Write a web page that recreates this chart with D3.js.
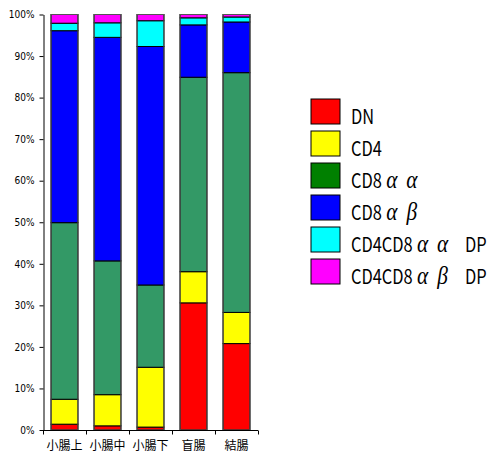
<!DOCTYPE html>
<html><head><meta charset="utf-8">
<script src="https://cdn.jsdelivr.net/npm/d3@7"></script>
<style>body{margin:0;background:#fff}</style>
</head><body>
<svg id="c" width="491" height="452"></svg>
<script>
const categories = ["小腸上","小腸中","小腸下","盲腸","結腸"];
const seriesNames = ["DN","CD4","CD8αα","CD8αβ","CD4CD8αα　DP","CD4CD8αβ　DP"];
const DN      = [1.4, 1.0, 0.7, 30.6, 20.8];
const CD4     = [6.0, 7.5, 14.4, 7.5, 7.5];
const CD8aa   = [42.5, 32.2, 19.8, 46.8, 57.7];
const CD8ab   = [46.2, 53.8, 57.4, 12.6, 12.2];
const DPaa    = [1.8, 3.5, 6.2, 1.7, 1.2];
const DPab    = [2.1, 2.0, 1.5, 0.8, 0.6];
const yTicks  = [0,10,20,30,40,50,60,70,80,90,100];
const barColors = ["#ff0000","#ffff00","#339966","#0000ff","#00ffff","#ff00ff"];
const legendColors = ["#ff0000","#ffff00","#008000","#0000ff","#00ffff","#ff00ff"];

const seriesVals = [DN, CD4, CD8aa, CD8ab, DPaa, DPab];
const table = categories.map((c,i)=>{const o={cat:c}; seriesNames.forEach((s,k)=>o[s]=seriesVals[k][i]); return o;});
const stacked = d3.stack().keys(seriesNames)(table);

const svg = d3.select("#c");
const x = d3.scaleBand().domain(categories).range([43,258]).paddingInner(0.35).paddingOuter(0.175);
const y = d3.scaleLinear().domain([0,100]).range([430,14.5]);

const g = svg.append("g");
stacked.forEach((layer,k)=>{
  g.selectAll(null).data(layer).enter().append("rect")
    .attr("x", d=>x(d.data.cat)+0.5)
    .attr("width", x.bandwidth()-1)
    .attr("y", d=>y(d[1]))
    .attr("height", d=>Math.max(0,y(d[0])-y(d[1])))
    .attr("fill", barColors[k])
    .attr("stroke","#000").attr("stroke-width",1);
});
g.selectAll(null).data(categories).enter().append("rect")
  .attr("x", d=>x(d)+0.5).attr("width", x.bandwidth()-1)
  .attr("y", y(100)).attr("height", y(0)-y(100))
  .attr("fill","none").attr("stroke","#555").attr("stroke-width",1);

// y axis
const yAxis = d3.axisLeft(y).tickValues(yTicks).tickFormat(d=>d+"%").tickSize(4).tickSizeOuter(0);
const ya = svg.append("g").attr("transform","translate(43.5,0)").call(yAxis);
ya.selectAll("text").attr("font-family","'Liberation Sans Narrow','DejaVu Sans Condensed',sans-serif").attr("font-size",10).attr("fill","#000").attr("x",-9);
ya.select(".domain").attr("stroke","#000");
ya.selectAll(".tick line").attr("stroke","#000");

// x axis
const xa = svg.append("g").attr("transform","translate(0,430.5)");
xa.append("line").attr("x1",43).attr("x2",258).attr("stroke","#000");
const bounds = d3.range(categories.length+1).map(i=>43 + i*x.step());
xa.selectAll(null).data(bounds).enter().append("line")
  .attr("x1",d=>Math.round(d)+0.5).attr("x2",d=>Math.round(d)+0.5).attr("y1",0).attr("y2",4).attr("stroke","#000");
xa.selectAll(null).data(categories).enter().append("text")
  .attr("x",d=>x(d)+x.bandwidth()/2).attr("y",19)
  .attr("text-anchor","middle").attr("font-family","'Noto Sans CJK JP'").attr("font-size",12).attr("fill","#000")
  .text(d=>d);

// legend
const SX = 0.82, SLOT = 20/0.82;
const lg = svg.append("g").attr("transform","translate(311,99)");
seriesNames.forEach((s,k)=>{
  const r = lg.append("g").attr("transform",`translate(0,${k*32})`);
  r.append("rect").attr("width",29).attr("height",25).attr("fill",legendColors[k]).attr("stroke","#000").attr("stroke-width",1);
  const t = r.append("g").attr("transform",`translate(40,25) scale(${SX},1)`)
    .append("text").attr("x",0).attr("y",0).attr("font-family","'Noto Sans CJK JP'").attr("font-size",20).attr("fill","#000");
  const runs = s.match(/[αβ]|　|[^αβ　]+/g);
  let pendingDx = 0;
  runs.forEach(run=>{
    if (/[αβ]/.test(run)) {
      const ts = t.append("tspan").text(run).attr("font-family","'Liberation Serif'").attr("font-style","italic").attr("font-size",26);
      const w = ts.node().getComputedTextLength();
      ts.attr("dx", pendingDx + (SLOT-w)/2);
      pendingDx = (SLOT-w)/2;
    } else if (run === "　") {
      pendingDx += 15;
    } else {
      t.append("tspan").text(run).attr("dx", pendingDx);
      pendingDx = 0;
    }
  });
});
</script>
</body></html>
